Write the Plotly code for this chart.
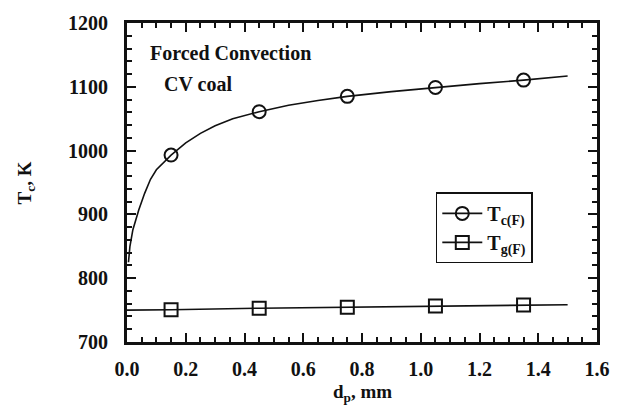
import plotly.graph_objects as go

# Particle diameter (mm) and measured temperatures (K), forced convection, CV coal
d_pts = [0.15, 0.45, 0.75, 1.05, 1.35]
tc_pts = [993, 1061, 1085, 1099, 1110.5]
tg_pts = [750.5, 753, 754.5, 756.5, 758]

# Smooth fitted curves through the measurements
d_fit_c = [0.005, 0.01, 0.02, 0.04, 0.06, 0.08, 0.10, 0.15, 0.20, 0.25, 0.30,
           0.36, 0.45, 0.55, 0.65, 0.75, 0.90, 1.05, 1.20, 1.35, 1.50]
tc_fit = [825, 850, 876, 907, 933, 955, 970, 993, 1012, 1027, 1039,
          1050, 1061, 1071, 1078.5, 1085, 1092.5, 1099, 1105, 1110.5, 1117]
d_fit_g = [0.0, 0.15, 0.45, 0.75, 1.05, 1.35, 1.50]
tg_fit = [750, 750.5, 753, 754.5, 756.5, 758, 758.5]

x_ticks = [0.0, 0.2, 0.4, 0.6, 0.8, 1.0, 1.2, 1.4, 1.6]
y_ticks = [700, 800, 900, 1000, 1100, 1200]

SERIF = "Liberation Serif"
BLACK = "#111111"

fig = go.Figure()

# Fitted curves
fig.add_trace(go.Scatter(x=d_fit_c, y=tc_fit, mode="lines",
                         line=dict(color=BLACK, width=1.6),
                         showlegend=False, hoverinfo="skip"))
fig.add_trace(go.Scatter(x=d_fit_g, y=tg_fit, mode="lines",
                         line=dict(color=BLACK, width=1.6),
                         showlegend=False, hoverinfo="skip"))

# Measured points
circle = dict(symbol="circle-open", size=13, color=BLACK, line=dict(width=2, color=BLACK))
square = dict(symbol="square-open", size=13, color=BLACK, line=dict(width=2, color=BLACK))
fig.add_trace(go.Scatter(x=d_pts, y=tc_pts, mode="markers", marker=circle,
                         showlegend=False))
fig.add_trace(go.Scatter(x=d_pts, y=tg_pts, mode="markers", marker=square,
                         showlegend=False))

# Legend entries (line + symbol)
fig.add_trace(go.Scatter(x=[None], y=[None], mode="lines+markers",
                         name="<b>T<sub>c(F)</sub></b>",
                         line=dict(color=BLACK, width=1.6), marker=circle))
fig.add_trace(go.Scatter(x=[None], y=[None], mode="lines+markers",
                         name="<b>T<sub>g(F)</sub></b>",
                         line=dict(color=BLACK, width=1.6), marker=square))

axis_common = dict(
    showline=True, linecolor=BLACK, linewidth=3, mirror="allticks",
    ticks="inside", ticklen=9, tickwidth=2, tickcolor=BLACK,
    showgrid=False, zeroline=False,
    tickfont=dict(family=SERIF, size=20, color=BLACK),
)

fig.update_xaxes(range=[0, 1.6], tickvals=x_ticks,
                 ticktext=[f"<b>{v:.1f}</b>" for v in x_ticks],
                 minor=dict(dtick=0.05, ticks="inside", ticklen=5,
                            tickwidth=1.5, tickcolor=BLACK),
                 ticklabelstandoff=7, **axis_common)
fig.update_yaxes(range=[700, 1200], tickvals=y_ticks,
                 ticktext=[f"<b>{v}</b>" for v in y_ticks],
                 minor=dict(dtick=20, ticks="inside", ticklen=5,
                            tickwidth=1.5, tickcolor=BLACK),
                 ticklabelstandoff=12, **axis_common)

text_font = dict(family=SERIF, size=20, color=BLACK)
fig.add_annotation(x=0.07, y=1153, xref="x", yref="y", text="<b>Forced Convection</b>",
                   showarrow=False, xanchor="left", font=text_font)
fig.add_annotation(x=0.12, y=1105, xref="x", yref="y", text="<b>CV coal</b>",
                   showarrow=False, xanchor="left", font=text_font)

# Axis titles
fig.add_annotation(x=0.5, y=-0.115, xref="paper", yref="paper",
                   text="<b>d<sub>p</sub>, mm</b>", showarrow=False,
                   xanchor="center", yanchor="top",
                   font=dict(family=SERIF, size=19, color=BLACK))
fig.add_annotation(x=-0.215, y=0.5, xref="paper", yref="paper",
                   text="<b>T<sub>c</sub>, K</b>", showarrow=False, textangle=-90,
                   xanchor="center", yanchor="middle",
                   font=dict(family=SERIF, size=19, color=BLACK))

fig.update_layout(
    width=628, height=415,
    margin=dict(l=127, r=31, t=18, b=73),
    paper_bgcolor="white", plot_bgcolor="white",
    legend=dict(x=0.657, y=0.469, xanchor="left", yanchor="top",
                bgcolor="white", bordercolor=BLACK, borderwidth=1.5,
                font=dict(family=SERIF, size=20, color=BLACK),
                itemwidth=40),
)

fig.write_html("out.html")
